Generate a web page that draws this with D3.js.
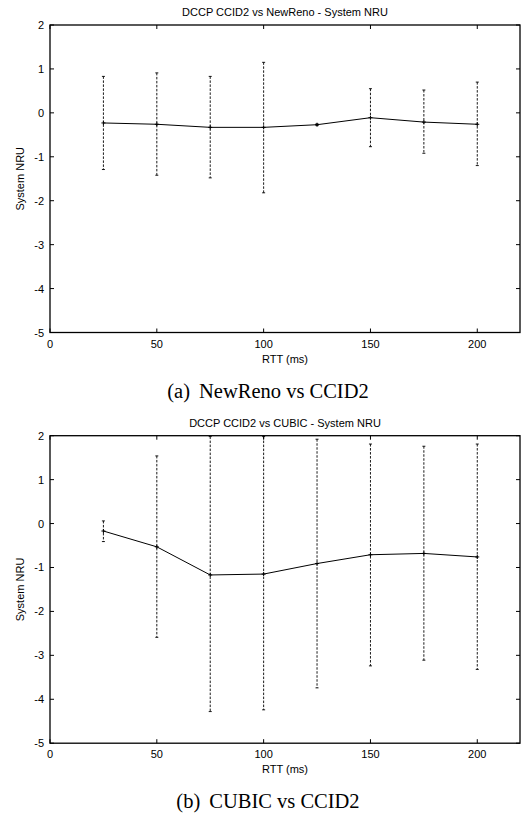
<!DOCTYPE html>
<html>
<head>
<meta charset="utf-8">
<script src="https://cdn.jsdelivr.net/npm/d3@7"></script>
<style>
  body { margin: 0; background: #fff; }
  svg { display: block; }
  .tk { font-family: "Liberation Sans Narrow", "Liberation Sans", Arial, sans-serif; font-size: 11px; fill: #000; }
  .cap { font-family: "Liberation Serif", "Times New Roman", serif; font-size: 20.5px; fill: #000; }
</style>
</head>
<body>
<div id="chart"></div>
<script>
const rtt = [25, 50, 75, 100, 125, 150, 175, 200];

// (a) NewReno vs CCID2
const renoMean  = [-0.23, -0.26, -0.33, -0.33, -0.27, -0.11, -0.21, -0.26];
const renoUpper = [0.83, 0.91, 0.83, 1.15, -0.25, 0.55, 0.52, 0.70];
const renoLower = [-1.29, -1.42, -1.48, -1.82, -0.29, -0.77, -0.92, -1.20];

// (b) CUBIC vs CCID2
const cubicMean  = [-0.17, -0.53, -1.17, -1.15, -0.91, -0.71, -0.68, -0.76];
const cubicUpper = [0.06, 1.54, 1.98, 1.98, 1.92, 1.81, 1.76, 1.81];
const cubicLower = [-0.41, -2.59, -4.28, -4.24, -3.74, -3.24, -3.11, -3.32];

const xTicks = [0, 50, 100, 150, 200];
const yTicks = [2, 1, 0, -1, -2, -3, -4, -5];

const panels = [
  {title: "DCCP CCID2 vs NewReno - System NRU", tag: "(a)", caption: "NewReno vs CCID2",
   mean: renoMean, upper: renoUpper, lower: renoLower, top: 25},
  {title: "DCCP CCID2 vs CUBIC - System NRU", tag: "(b)", caption: "CUBIC vs CCID2",
   mean: cubicMean, upper: cubicUpper, lower: cubicLower, top: 435.7}
];

const W = 523, H = 817;
const left = 50, right = 520, plotH = 307.5;

const svg = d3.select("#chart").append("svg")
    .attr("width", W)
    .attr("height", H);

const x = d3.scaleLinear().domain([0, 220]).range([left, right]);

panels.forEach(p => {
    const y = d3.scaleLinear().domain([-5, 2]).range([p.top + plotH, p.top]);
    const g = svg.append("g");
    const pts = rtt.map((r, i) => ({r: r, m: p.mean[i], hi: p.upper[i], lo: p.lower[i]}));

    // ticks, drawn inward on all four sides
    const tl = 4;
    g.selectAll(".xt").data(xTicks).enter().append("path")
        .attr("d", d => "M" + x(d) + "," + y(-5) + "v" + (-tl) + "M" + x(d) + "," + y(2) + "v" + tl)
        .attr("stroke", "#000").attr("stroke-width", 1);
    g.selectAll(".yt").data(yTicks).enter().append("path")
        .attr("d", d => "M" + left + "," + y(d) + "h" + tl + "M" + right + "," + y(d) + "h" + (-tl))
        .attr("stroke", "#000").attr("stroke-width", 1);

    g.append("rect")
        .attr("x", left).attr("y", y(2))
        .attr("width", right - left).attr("height", y(-5) - y(2))
        .attr("fill", "none").attr("stroke", "#000").attr("stroke-width", 1.3);

    g.selectAll(".xl").data(xTicks).enter().append("text")
        .attr("class", "tk")
        .attr("x", d => x(d)).attr("y", y(-5) + 15)
        .attr("text-anchor", "middle")
        .text(d => d);
    g.selectAll(".yl").data(yTicks).enter().append("text")
        .attr("class", "tk")
        .attr("x", left - 6).attr("y", d => y(d) + 4)
        .attr("text-anchor", "end")
        .text(d => d);

    g.append("text").attr("class", "tk")
        .attr("x", (left + right) / 2).attr("y", p.top - 9)
        .attr("text-anchor", "middle")
        .text(p.title);
    g.append("text").attr("class", "tk")
        .attr("x", (left + right) / 2).attr("y", y(-5) + 30)
        .attr("text-anchor", "middle")
        .text("RTT (ms)");
    g.append("text").attr("class", "tk")
        .attr("transform", "translate(24," + (y(2) + y(-5)) / 2 + ") rotate(-90)")
        .attr("text-anchor", "middle")
        .text("System NRU");

    // error bars
    g.selectAll(".eb").data(pts).enter().append("line")
        .attr("x1", d => x(d.r)).attr("x2", d => x(d.r))
        .attr("y1", d => y(d.hi)).attr("y2", d => y(d.lo))
        .attr("stroke", "#000").attr("stroke-width", 0.9)
        .attr("stroke-dasharray", "2.5,1.5");
    g.selectAll(".ec").data(pts).enter().append("path")
        .attr("d", d => "M" + (x(d.r) - 1.5) + "," + y(d.hi) + "h3M" + (x(d.r) - 1.5) + "," + y(d.lo) + "h3")
        .attr("stroke", "#000").attr("stroke-width", 0.9);

    // mean line with + markers
    const line = d3.line().x(d => x(d.r)).y(d => y(d.m));
    g.append("path").datum(pts)
        .attr("d", line)
        .attr("fill", "none").attr("stroke", "#000").attr("stroke-width", 1);
    g.selectAll(".mk").data(pts).enter().append("path")
        .attr("d", d => "M" + (x(d.r) - 2) + "," + y(d.m) + "h4M" + x(d.r) + "," + (y(d.m) - 2) + "v4")
        .attr("stroke", "#000").attr("stroke-width", 1);

    const cap = g.append("text").attr("class", "cap")
        .attr("x", 268).attr("y", y(-5) + 65)
        .attr("text-anchor", "middle");
    cap.append("tspan").text(p.tag);
    cap.append("tspan").attr("dx", 9).text(p.caption);
});
</script>
</body>
</html>
